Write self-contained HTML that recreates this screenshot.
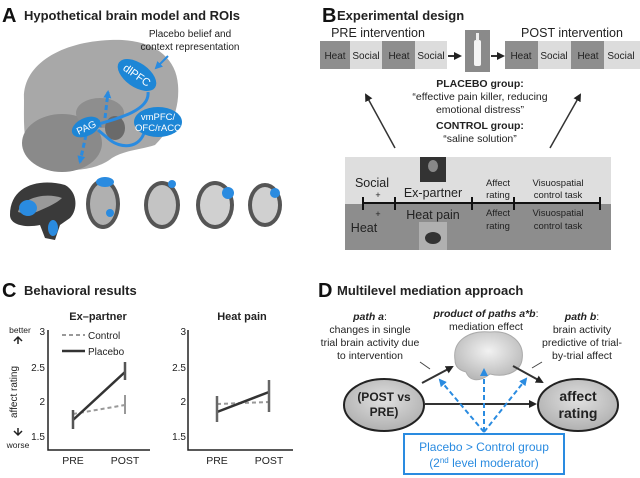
<!DOCTYPE html>
<html><head><meta charset="utf-8"><style>
html,body{margin:0;padding:0;background:#fff;}
svg{display:block;font-family:"Liberation Sans",Arial,sans-serif;}
</style></head><body>
<svg width="640" height="478" viewBox="0 0 640 478" xmlns="http://www.w3.org/2000/svg">
<defs>
<marker id="ak" markerWidth="8" markerHeight="8" refX="6" refY="4" orient="auto" markerUnits="userSpaceOnUse"><path d="M0,0 L8,4 L0,8 Z" fill="#222"/></marker>
<marker id="ab" markerWidth="8" markerHeight="8" refX="6" refY="4" orient="auto" markerUnits="userSpaceOnUse"><path d="M0,0 L8,4 L0,8 Z" fill="#2a8be0"/></marker>
<radialGradient id="brg" cx="50%" cy="40%" r="60%"><stop offset="0" stop-color="#f2f2f2"/><stop offset="1" stop-color="#b8b8b8"/></radialGradient>
<radialGradient id="elg" cx="50%" cy="40%" r="60%"><stop offset="0" stop-color="#e0e0e0"/><stop offset="1" stop-color="#b0b0b0"/></radialGradient>
</defs>

<!-- Panel A -->
<text x="2" y="22" font-size="20" font-weight="bold" fill="#111">A</text>
<text x="24" y="20" font-size="13" font-weight="bold" fill="#222">Hypothetical brain model and ROIs</text>
<path d="M24,100 C22,65 60,42 110,40 C150,38 176,55 178,85 C180,110 170,130 155,145 C140,150 125,150 112,158 C95,172 60,174 38,162 C22,150 24,125 24,100 Z" fill="#a8a8a8"/>
<ellipse cx="62" cy="143" rx="40" ry="29" fill="#8a8a8a"/>
<ellipse cx="100" cy="113" rx="24" ry="15" fill="#8e8e8e"/>
<ellipse cx="115" cy="128" rx="10" ry="12" fill="#6a6a6a"/>
<text x="190" y="37" font-size="10" fill="#222" text-anchor="middle">Placebo belief and</text>
<text x="190" y="50" font-size="10" fill="#222" text-anchor="middle">context representation</text>
<line x1="168" y1="56" x2="156" y2="68" stroke="#2a8be0" stroke-width="2" marker-end="url(#ab)"/>
<path d="M148,92 C150,110 120,118 95,125" fill="none" stroke="#2a8be0" stroke-width="3" marker-end="url(#ab)"/>
<path d="M145,130 C140,150 120,148 110,140 L98,130" fill="none" stroke="#2a8be0" stroke-width="3"/>
<line x1="105" y1="118" x2="108" y2="92" stroke="#2a8be0" stroke-width="3" stroke-dasharray="5,3" marker-end="url(#ab)"/>
<line x1="86" y1="135" x2="80" y2="162" stroke="#2a8be0" stroke-width="3" stroke-dasharray="5,3" marker-end="url(#ab)"/>
<ellipse cx="137" cy="75" rx="22" ry="12" transform="rotate(35 137 75)" fill="#1d86d6"/>
<text x="137" y="79" font-size="11" fill="#fff" text-anchor="middle" transform="rotate(35 137 75)">dlPFC</text>
<ellipse cx="158" cy="122" rx="24" ry="15" fill="#1d86d6"/>
<text x="158" y="120" font-size="9.5" fill="#fff" text-anchor="middle">vmPFC/</text>
<text x="158" y="131" font-size="9.5" fill="#fff" text-anchor="middle">OFC/rACC</text>
<ellipse cx="86" cy="127" rx="15" ry="9" transform="rotate(-25 86 127)" fill="#1d86d6"/>
<text x="86" y="131" font-size="10" fill="#fff" text-anchor="middle" transform="rotate(-25 86 127)">PAG</text>
<!-- slices -->
<path d="M10,215 C10,185 40,178 65,185 C78,192 78,210 70,218 L60,225 L55,240 L45,238 L40,225 C25,228 10,225 10,215 Z" fill="#3a3a3a"/>
<path d="M18,212 C22,198 45,192 62,198 C55,205 40,210 30,215 Z" fill="#999"/>
<ellipse cx="28" cy="208" rx="9" ry="8" fill="#2a8be0"/><ellipse cx="53" cy="228" rx="5" ry="8" fill="#2a8be0"/>
<ellipse cx="103" cy="204" rx="17" ry="25" fill="#555"/><ellipse cx="103" cy="204" rx="13" ry="21" fill="#b0b0b0"/>
<ellipse cx="105" cy="182" rx="9" ry="5" fill="#2a8be0"/><circle cx="110" cy="213" r="4" fill="#2a8be0"/>
<ellipse cx="162" cy="205" rx="18" ry="24" fill="#555"/><ellipse cx="162" cy="205" rx="14" ry="20" fill="#c4c4c4"/>
<circle cx="172" cy="184" r="4" fill="#2a8be0"/>
<ellipse cx="215" cy="205" rx="19" ry="24" fill="#555"/><ellipse cx="215" cy="205" rx="15" ry="20" fill="#d0d0d0"/>
<circle cx="228" cy="193" r="6" fill="#2a8be0"/>
<ellipse cx="265" cy="205" rx="17" ry="22" fill="#555"/><ellipse cx="265" cy="205" rx="13" ry="18" fill="#d0d0d0"/>
<circle cx="275" cy="193" r="5" fill="#2a8be0"/>

<!-- Panel B -->
<text x="322" y="22" font-size="20" font-weight="bold" fill="#111">B</text>
<text x="337" y="20" font-size="13" font-weight="bold" fill="#222">Experimental design</text>
<text x="378" y="37" font-size="12.5" fill="#222" text-anchor="middle">PRE intervention</text>
<text x="572" y="37" font-size="12.5" fill="#222" text-anchor="middle">POST intervention</text>
<rect x="320" y="41" width="30" height="28" fill="#8e8e8e"/><rect x="350" y="41" width="32" height="28" fill="#dcdcdc"/>
<rect x="382" y="41" width="33" height="28" fill="#8e8e8e"/><rect x="415" y="41" width="32" height="28" fill="#dcdcdc"/>
<rect x="505" y="41" width="33" height="28" fill="#8e8e8e"/><rect x="538" y="41" width="33" height="28" fill="#dcdcdc"/>
<rect x="571" y="41" width="33" height="28" fill="#8e8e8e"/><rect x="604" y="41" width="36" height="28" fill="#dcdcdc"/>
<g font-size="10" fill="#222" text-anchor="middle">
<text x="335" y="59">Heat</text><text x="366" y="59">Social</text><text x="399" y="59">Heat</text><text x="431" y="59">Social</text>
<text x="521" y="59">Heat</text><text x="554" y="59">Social</text><text x="588" y="59">Heat</text><text x="621" y="59">Social</text>
</g>
<line x1="448" y1="56" x2="460" y2="56" stroke="#333" stroke-width="2" marker-end="url(#ak)"/>
<line x1="491" y1="56" x2="503" y2="56" stroke="#333" stroke-width="2" marker-end="url(#ak)"/>
<rect x="465" y="30" width="25" height="42" fill="#8a8a8a"/>
<rect x="474" y="40" width="7" height="26" rx="2" fill="#f4f4f4"/><rect x="476" y="33" width="3" height="8" fill="#eee"/>
<g font-size="10.5" fill="#222" text-anchor="middle">
<text x="480" y="87" font-weight="bold">PLACEBO group:</text>
<text x="480" y="100">“effective pain killer, reducing</text>
<text x="480" y="113">emotional distress”</text>
<text x="480" y="129" font-weight="bold">CONTROL group:</text>
<text x="480" y="142">“saline solution”</text>
</g>
<line x1="395" y1="148" x2="366" y2="95" stroke="#333" stroke-width="1.5" marker-end="url(#ak)"/>
<line x1="550" y1="148" x2="580" y2="95" stroke="#333" stroke-width="1.5" marker-end="url(#ak)"/>
<rect x="345" y="157" width="266" height="47" fill="#dedede"/>
<rect x="345" y="204" width="266" height="46" fill="#8d8d8d"/>
<line x1="362" y1="203" x2="601" y2="203" stroke="#111" stroke-width="2"/>
<g stroke="#111" stroke-width="2"><line x1="363" y1="197" x2="363" y2="210"/><line x1="395" y1="197" x2="395" y2="210"/><line x1="472" y1="197" x2="472" y2="210"/><line x1="514" y1="197" x2="514" y2="210"/><line x1="600" y1="197" x2="600" y2="210"/></g>
<rect x="420" y="157" width="26" height="25" fill="#333"/><ellipse cx="433" cy="166" rx="5" ry="6" fill="#888"/>
<rect x="419" y="222" width="28" height="28" fill="#b0b0b0"/><ellipse cx="433" cy="238" rx="8" ry="6" fill="#333"/>
<g fill="#222" text-anchor="middle">
<text x="372" y="187" font-size="12.5">Social</text><text x="378" y="198" font-size="9">+</text>
<text x="433" y="197" font-size="12.5">Ex-partner</text>
<text x="498" y="186" font-size="9.5">Affect</text><text x="498" y="198" font-size="9.5">rating</text>
<text x="558" y="186" font-size="9.5">Visuospatial</text><text x="558" y="198" font-size="9.5">control task</text>
<text x="378" y="217" font-size="9">+</text><text x="364" y="232" font-size="12.5">Heat</text>
<text x="433" y="219" font-size="12.5">Heat pain</text>
<text x="498" y="216" font-size="9.5">Affect</text><text x="498" y="229" font-size="9.5">rating</text>
<text x="558" y="216" font-size="9.5">Visuospatial</text><text x="558" y="229" font-size="9.5">control task</text>
</g>

<!-- Panel C -->
<text x="2" y="297" font-size="20" font-weight="bold" fill="#111">C</text>
<text x="24" y="295" font-size="13" font-weight="bold" fill="#222">Behavioral results</text>
<g font-size="11" fill="#222">
<text x="98" y="320" text-anchor="middle" font-weight="bold">Ex–partner</text>
<text x="242" y="320" text-anchor="middle" font-weight="bold">Heat pain</text>
<text x="20" y="333" text-anchor="middle" font-size="8.5">better</text>
<text x="18" y="448" text-anchor="middle" font-size="8.5">worse</text>
<text x="17" y="392" text-anchor="middle" font-size="10" transform="rotate(-90 17 392)">affect rating</text>
</g>
<path d="M18,344 L18,337 M14,341 L18,337 L22,341" stroke="#222" stroke-width="1.5" fill="none"/>
<path d="M18,428 L18,435 M14,431 L18,435 L22,431" stroke="#222" stroke-width="1.5" fill="none"/>
<g stroke="#222" stroke-width="1.5" fill="none">
<path d="M48,330 L48,450 L150,450"/><path d="M188,330 L188,450 L293,450"/>
</g>
<g font-size="10" fill="#222" text-anchor="end">
<text x="45" y="335">3</text><text x="45" y="371">2.5</text><text x="45" y="405">2</text><text x="45" y="440">1.5</text>
<text x="186" y="335">3</text><text x="186" y="371">2.5</text><text x="186" y="405">2</text><text x="186" y="440">1.5</text>
</g>
<g font-size="10.5" fill="#222" text-anchor="middle">
<text x="73" y="464">PRE</text><text x="125" y="464">POST</text><text x="217" y="464">PRE</text><text x="269" y="464">POST</text>
</g>
<line x1="62" y1="335" x2="85" y2="335" stroke="#999" stroke-width="2" stroke-dasharray="4,3"/>
<text x="88" y="339" font-size="10" fill="#222">Control</text>
<line x1="62" y1="351" x2="85" y2="351" stroke="#333" stroke-width="2.5"/>
<text x="88" y="355" font-size="10" fill="#222">Placebo</text>
<line x1="73" y1="414" x2="125" y2="405" stroke="#999" stroke-width="2" stroke-dasharray="4,3"/>
<line x1="125" y1="395" x2="125" y2="414" stroke="#999" stroke-width="2"/>
<line x1="73" y1="420" x2="125" y2="372" stroke="#333" stroke-width="2.5"/>
<line x1="73" y1="410" x2="73" y2="429" stroke="#555" stroke-width="2.5"/>
<line x1="125" y1="362" x2="125" y2="380" stroke="#555" stroke-width="2.5"/>
<line x1="217" y1="404" x2="269" y2="402" stroke="#999" stroke-width="2" stroke-dasharray="4,3"/>
<line x1="217" y1="412" x2="269" y2="392" stroke="#333" stroke-width="2.5"/>
<line x1="217" y1="396" x2="217" y2="422" stroke="#666" stroke-width="2.5"/>
<line x1="269" y1="380" x2="269" y2="412" stroke="#666" stroke-width="2.5"/>

<!-- Panel D -->
<text x="318" y="297" font-size="20" font-weight="bold" fill="#111">D</text>
<text x="337" y="295" font-size="13" font-weight="bold" fill="#222">Multilevel mediation approach</text>
<g font-size="10.5" fill="#222" text-anchor="middle">
<text x="370" y="320"><tspan font-weight="bold" font-style="italic">path a</tspan>:</text>
<text x="370" y="333">changes in single</text>
<text x="370" y="346">trial brain activity due</text>
<text x="370" y="359">to intervention</text>
<text x="486" y="317"><tspan font-weight="bold" font-style="italic">product of paths a*b</tspan>:</text>
<text x="486" y="330">mediation effect</text>
<text x="582" y="320"><tspan font-weight="bold" font-style="italic">path b</tspan>:</text>
<text x="582" y="333">brain activity</text>
<text x="582" y="346">predictive of trial-</text>
<text x="582" y="359">by-trial affect</text>
</g>
<line x1="420" y1="362" x2="430" y2="369" stroke="#444"/>
<line x1="532" y1="368" x2="542" y2="362" stroke="#444"/>
<path d="M455,360 C452,340 470,330 490,332 C510,330 525,342 522,360 C520,372 505,378 490,374 C480,382 470,382 466,372 C458,370 455,366 455,360 Z" fill="url(#brg)" stroke="#aaa"/>
<ellipse cx="384" cy="405" rx="40" ry="26" fill="url(#elg)" stroke="#222" stroke-width="2"/>
<ellipse cx="578" cy="405" rx="40" ry="26" fill="url(#elg)" stroke="#222" stroke-width="2"/>
<text x="384" y="401" font-size="12" font-weight="bold" text-anchor="middle" fill="#222">(POST vs</text>
<text x="384" y="416" font-size="12" font-weight="bold" text-anchor="middle" fill="#222">PRE)</text>
<text x="578" y="401" font-size="14" font-weight="bold" text-anchor="middle" fill="#222">affect</text>
<text x="578" y="418" font-size="14" font-weight="bold" text-anchor="middle" fill="#222">rating</text>
<line x1="422" y1="383" x2="452" y2="367" stroke="#333" stroke-width="2" marker-end="url(#ak)"/>
<line x1="513" y1="366" x2="542" y2="382" stroke="#333" stroke-width="2" marker-end="url(#ak)"/>
<line x1="425" y1="404" x2="535" y2="404" stroke="#333" stroke-width="2" marker-end="url(#ak)"/>
<g stroke="#2a8be0" stroke-width="2" stroke-dasharray="5,3" fill="none">
<line x1="484" y1="432" x2="440" y2="380" marker-end="url(#ab)"/>
<line x1="484" y1="432" x2="484" y2="370" marker-end="url(#ab)"/>
<line x1="484" y1="432" x2="526" y2="379" marker-end="url(#ab)"/>
</g>
<rect x="404" y="434" width="160" height="40" fill="#fff" stroke="#2a8be0" stroke-width="2"/>
<text x="484" y="451" font-size="12" text-anchor="middle" fill="#2a8be0">Placebo &gt; Control group</text>
<text x="484" y="467" font-size="12" text-anchor="middle" fill="#2a8be0">(2<tspan font-size="8" dy="-4">nd</tspan><tspan dy="4"> level moderator)</tspan></text>
</svg>
</body></html>
